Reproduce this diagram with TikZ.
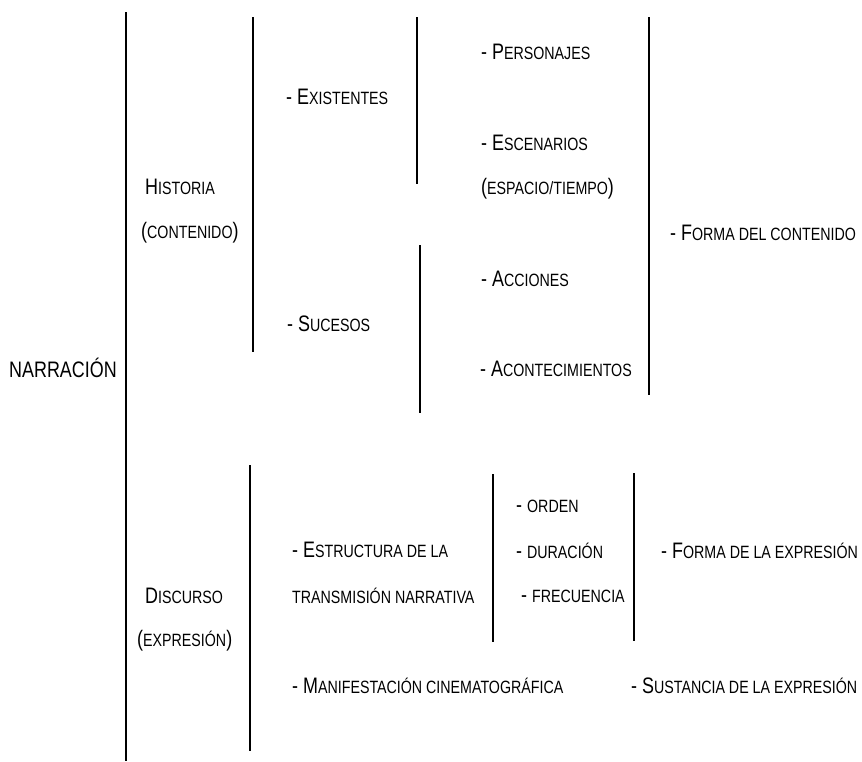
\documentclass[tikz,border=0pt]{standalone}
\usepackage{fontspec}
\setmainfont{Liberation Sans}[FakeStretch=0.8]
\newcommand\smc[1]{{\fontsize{17.8}{20}\selectfont #1}}
\begin{document}
\begin{tikzpicture}[x=1pt,y=-1pt,
  txt/.style={anchor=west,inner sep=0pt,font=\fontsize{22.4}{26}\selectfont},
  sep/.style={line width=2.2pt}]
\useasboundingbox (0,0) rectangle (862,761);
% vertical separators
\draw[sep] (126,12) -- (126,761);
\draw[sep] (253,17) -- (253,352);
\draw[sep] (417,17) -- (417,184);
\draw[sep] (420,245) -- (420,413);
\draw[sep] (649,17) -- (649,395);
\draw[sep] (250,465) -- (250,751);
\draw[sep] (493,474) -- (493,642);
\draw[sep] (634,473) -- (634,641);
% texts
\node[txt] (narr) at (9,368) {NARRACIÓN};
\node[txt] (hist) at (145,187) {H\smc{ISTORIA}};
\node[txt] (cont) at (141,233) {(\smc{CONTENIDO})};
\node[txt] (exis) at (286,97) {- E\smc{XISTENTES}};
\node[txt] (suce) at (287,324) {- S\smc{UCESOS}};
\node[txt] (pers) at (481,52) {- P\smc{ERSONAJES}};
\node[txt] (esce) at (481,143) {- E\smc{SCENARIOS}};
\node[txt] (espa) at (481,189) {(\smc{ESPACIO/TIEMPO})};
\node[txt] (acci) at (481,279) {- A\smc{CCIONES}};
\node[txt] (acon) at (480,369) {- A\smc{CONTECIMIENTOS}};
\node[txt] (fcon) at (670,233) {- F\smc{ORMA DEL CONTENIDO}};
\node[txt] (disc) at (145,596) {D\smc{ISCURSO}};
\node[txt] (expr) at (137,641) {(\smc{EXPRESIÓN})};
\node[txt] (estr) at (292,550) {- E\smc{STRUCTURA DE LA}};
\node[txt] (tran) at (292,596) {\smc{TRANSMISIÓN NARRATIVA}};
\node[txt] (mani) at (292,686) {- M\smc{ANIFESTACIÓN CINEMATOGRÁFICA}};
\node[txt] (orde) at (516,506) {- \smc{ORDEN}};
\node[txt] (dura) at (516,551) {- \smc{DURACIÓN}};
\node[txt] (frec) at (521,596) {- \smc{FRECUENCIA}};
\node[txt] (fexp) at (661,551) {- F\smc{ORMA DE LA EXPRESIÓN}};
\node[txt] (sust) at (631,686) {- S\smc{USTANCIA DE LA EXPRESIÓN}};
\end{tikzpicture}
\end{document}
